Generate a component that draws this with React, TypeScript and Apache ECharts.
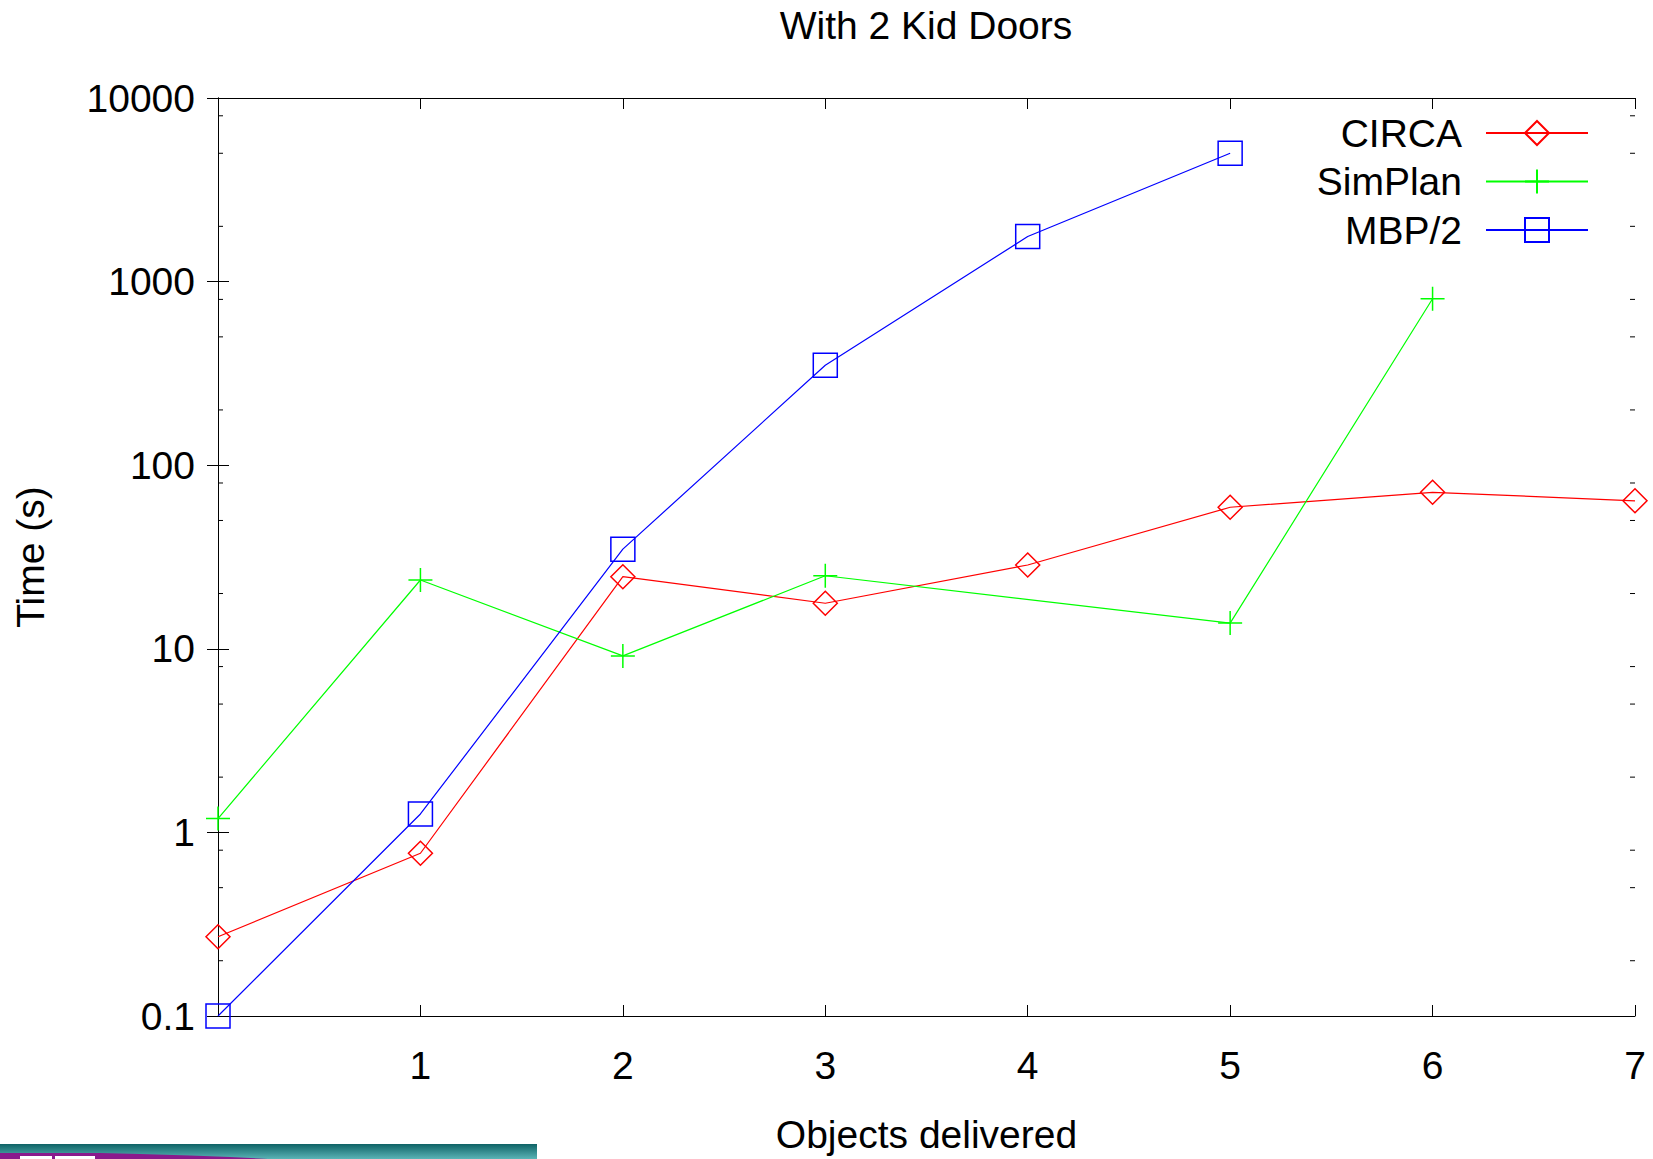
import React, { useEffect, useRef } from "react";
import * as echarts from "echarts";

const titleText = "With 2 Kid Doors";
const xName = "Objects delivered";
const yName = "Time (s)";
const xValues = [0, 1, 2, 3, 4, 5, 6, 7];
const xTickLabels = ["", "1", "2", "3", "4", "5", "6", "7"];
const circa = [0.27, 0.77, 24.7, 17.7, 28.6, 59, 71.2, 64];
const simplan = [1.19, 23.7, 9.15, 25, null, 13.8, 806, null];
const mbp = [0.1, 1.26, 34.9, 350, 1760, 5000, null, null];
const minorTickValues = [0.2, 0.5, 0.8, 2, 5, 8, 20, 50, 80, 200, 500, 800, 2000, 5000, 8000];

const FONT = "'Liberation Sans', Arial, sans-serif";
const FS = 39;

function pairs(arr: (number | null)[]) {
  const out: [number, number][] = [];
  arr.forEach((v, i) => {
    if (v !== null && v !== undefined) out.push([xValues[i], v]);
  });
  return out;
}

export default function App() {
  const ref = useRef<HTMLDivElement>(null);
  useEffect(() => {
    if (!ref.current) return;
    const chart = echarts.init(ref.current, undefined, { renderer: "svg" });
    const L = 218, R = 1635, T = 98, B = 1016;
    const lineW = 1.2;
    const mk = 1.5;
    const option: any = {
      animation: false,
      backgroundColor: "#ffffff",
      textStyle: { fontFamily: FONT },
      grid: { left: L, right: 1653 - R, top: T, bottom: 1159 - B, containLabel: false },
      legend: {
        data: ["CIRCA", "SimPlan", "MBP/2"],
        orient: "vertical",
        right: 59,
        top: 108,
        align: "right",
        itemWidth: 102,
        itemHeight: 30,
        itemGap: 8.5,
        selectedMode: false,
        textStyle: { fontSize: FS, lineHeight: 40, color: "#000", fontFamily: FONT, padding: [0, 19, 0, 0] },
      },
      xAxis: [
        {
          type: "value",
          min: 0,
          max: 7,
          interval: 1,
          position: "bottom",
          name: xName,
          nameLocation: "middle",
          nameGap: 99,
          nameTextStyle: { fontSize: FS, color: "#000", fontFamily: FONT },
          axisLine: { show: true, lineStyle: { color: "#000", width: 1 } },
          axisTick: { show: true, inside: true, length: 11, lineStyle: { color: "#000" } },
          axisLabel: {
            fontSize: FS,
            color: "#000",
            margin: 30,
            fontFamily: FONT,
            formatter: (v: number) => xTickLabels[Math.round(v)] ?? "",
          },
          splitLine: { show: false },
        },
        {
          type: "value",
          min: 0,
          max: 7,
          interval: 1,
          position: "top",
          axisLine: { show: true, lineStyle: { color: "#000", width: 1 } },
          axisTick: { show: true, inside: true, length: 11, lineStyle: { color: "#000" } },
          axisLabel: { show: false },
          splitLine: { show: false },
        },
      ],
      yAxis: [
        {
          type: "log",
          logBase: 10,
          min: 0.1,
          max: 10000,
          position: "left",
          name: yName,
          nameLocation: "middle",
          nameGap: 168,
          nameTextStyle: { fontSize: FS, color: "#000", fontFamily: FONT },
          axisLine: { show: true, lineStyle: { color: "#000", width: 1 } },
          axisTick: { show: true, inside: true, length: 11, lineStyle: { color: "#000" } },
          axisLabel: { fontSize: FS, color: "#000", margin: 23, fontFamily: FONT, formatter: (v: number) => String(+v.toPrecision(6)) },
          splitLine: { show: false },
        },
        {
          type: "log",
          logBase: 10,
          min: 0.1,
          max: 10000,
          position: "right",
          axisLine: { show: true, lineStyle: { color: "#000", width: 1 } },
          axisTick: { show: true, inside: true, length: 11, lineStyle: { color: "#000" } },
          axisLabel: { show: false },
          splitLine: { show: false },
        },
      ],
      series: [
        {
          name: "minor",
          type: "custom",
          silent: true,
          xAxisIndex: 0,
          yAxisIndex: 0,
          data: minorTickValues.map((v) => [0, v]),
          renderItem: (params: any, api: any) => {
            const v = api.value(1);
            const l = api.coord([0, v]);
            const r = api.coord([7, v]);
            const st = { stroke: "#000", lineWidth: 1 };
            return {
              type: "group",
              children: [
                { type: "line", shape: { x1: l[0], y1: l[1], x2: l[0] + 5, y2: l[1] }, style: st },
                { type: "line", shape: { x1: r[0] - 5, y1: r[1], x2: r[0], y2: r[1] }, style: st },
              ],
            };
          },
          z: 1,
        },
        {
          name: "CIRCA",
          type: "line",
          data: pairs(circa),
          symbol: "path://M5,0 L10,5 L5,10 L0,5 Z",
          symbolSize: 24,
          showAllSymbol: true,
          clip: false,
          lineStyle: { color: "#ff0000", width: lineW },
          itemStyle: { color: "rgba(0,0,0,0)", borderColor: "#ff0000", borderWidth: mk },
          z: 3,
        },
        {
          name: "SimPlan",
          type: "line",
          data: pairs(simplan),
          symbol: "path://M5,0 L5,10 M0,5 L10,5",
          symbolSize: 24,
          showAllSymbol: true,
          clip: false,
          lineStyle: { color: "#00ff00", width: lineW },
          itemStyle: { color: "rgba(0,0,0,0)", borderColor: "#00ff00", borderWidth: mk },
          z: 3,
        },
        {
          name: "MBP/2",
          type: "line",
          data: pairs(mbp),
          symbol: "rect",
          symbolSize: 24,
          showAllSymbol: true,
          clip: false,
          lineStyle: { color: "#0000ff", width: lineW },
          itemStyle: { color: "rgba(0,0,0,0)", borderColor: "#0000ff", borderWidth: mk },
          z: 3,
        },
      ],
      graphic: [
        {
          type: "text",
          x: 926,
          y: 25,
          style: { text: titleText, fontSize: FS, fill: "#000", fontFamily: FONT, align: "center", verticalAlign: "middle" },
        },
        {
          type: "rect",
          shape: { x: 0, y: 1144, width: 537, height: 15 },
          style: {
            fill: new echarts.graphic.LinearGradient(0, 0, 0, 1, [
              { offset: 0, color: "#0e6366" },
              { offset: 1, color: "#5ab4b6" },
            ]),
          },
          z: 10,
        },
        {
          type: "polygon",
          shape: {
            points: [
              [0, 1153], [100, 1153], [140, 1154], [190, 1155.5], [230, 1157], [268, 1159], [0, 1159],
            ],
          },
          style: { fill: "#8a1a8c" },
          z: 11,
        },
        { type: "rect", shape: { x: 20, y: 1156, width: 32, height: 3 }, style: { fill: "#ffffff" }, z: 12 },
        { type: "rect", shape: { x: 55, y: 1156, width: 40, height: 3 }, style: { fill: "#ffffff" }, z: 12 },
      ],
    };
    chart.setOption(option);
    return () => chart.dispose();
  }, []);
  return (
    <div
      ref={ref}
      style={{ position: "fixed", left: 0, top: 0, width: 1653, height: 1159, background: "#fff" }}
    />
  );
}
